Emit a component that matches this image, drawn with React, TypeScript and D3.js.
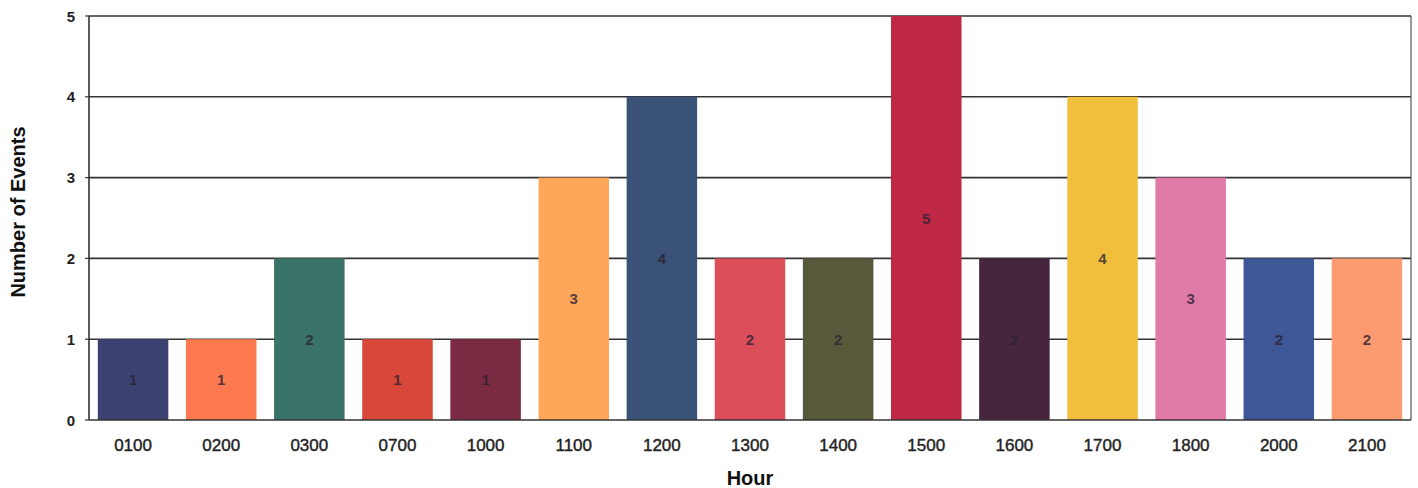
import React from "react";
import * as d3 from "d3";

const hours = ["0100","0200","0300","0700","1000","1100","1200","1300","1400","1500","1600","1700","1800","2000","2100"];
const events = [1,1,2,1,1,3,4,2,2,5,2,4,3,2,2];
const barColors = ["#3b4271","#fd7a50","#3a7367","#d9473b","#7b2b41","#fea75b","#3b5277","#dc4e59","#57593a","#bf2844","#46263f","#f1bf3c","#e07ba7","#3e5797","#fc9b6f"];
const yTicks = [0,1,2,3,4,5];

const W = 1418, H = 488;
const margin = { left: 89, right: 7, top: 16, bottom: 68 };

export default function App() {
  const x = d3.scaleBand<string>().domain(hours).range([margin.left, W - margin.right]).paddingInner(0.2).paddingOuter(0.1);
  const y = d3.scaleLinear().domain([0, 5]).range([H - margin.bottom, margin.top]);
  const font = "Arial, 'Liberation Sans', sans-serif";
  return (
    <svg width={W} height={H} style={{ position: "absolute", left: 0, top: 0, background: "#fff" }} fontFamily={font}>
      {yTicks.filter(t => t > 0).map(t => (
        <line key={"g" + t} x1={margin.left} x2={W - margin.right} y1={y(t)} y2={y(t)} stroke="#333" strokeWidth={1.6} />
      ))}
      {hours.map((h, i) => (
        <rect key={h} x={x(h)} y={y(events[i])} width={x.bandwidth()} height={y(0) - y(events[i])} fill={barColors[i]} />
      ))}
      {hours.map((h, i) => (
        <text key={"l" + h} x={x(h)! + x.bandwidth() / 2} y={(y(events[i]) + y(0)) / 2} textAnchor="middle" dominantBaseline="central" fontSize={15} fontWeight="bold" fill="#2a2030" fillOpacity={0.8}>{events[i]}</text>
      ))}
      <line x1={margin.left} x2={margin.left} y1={margin.top} y2={y(0)} stroke="#333" strokeWidth={1.6} />
      <line x1={W - margin.right} x2={W - margin.right} y1={margin.top} y2={y(0)} stroke="#555" strokeWidth={1.2} />
      <line x1={margin.left} x2={W - margin.right} y1={y(0)} y2={y(0)} stroke="#333" strokeWidth={1.6} />
      {yTicks.map(t => (
        <g key={"t" + t}>
          <line x1={margin.left - 4} x2={margin.left} y1={y(t)} y2={y(t)} stroke="#333" strokeWidth={1.2} />
          <text x={75} y={y(t)} textAnchor="end" dominantBaseline="central" fontSize={15} fontWeight="bold" fill="#222">{t}</text>
        </g>
      ))}
      {hours.map(h => (
        <text key={"x" + h} x={x(h)! + x.bandwidth() / 2} y={445} textAnchor="middle" dominantBaseline="central" fontSize={17} fill="#222" stroke="#222" strokeWidth={0.4}>{h}</text>
      ))}
      <text x={750} y={478} textAnchor="middle" dominantBaseline="central" fontSize={20} fontWeight="bold" fill="#111">Hour</text>
      <text transform={`translate(18,212) rotate(-90)`} textAnchor="middle" dominantBaseline="central" fontSize={20} fontWeight="bold" fill="#111">Number of Events</text>
    </svg>
  );
}
